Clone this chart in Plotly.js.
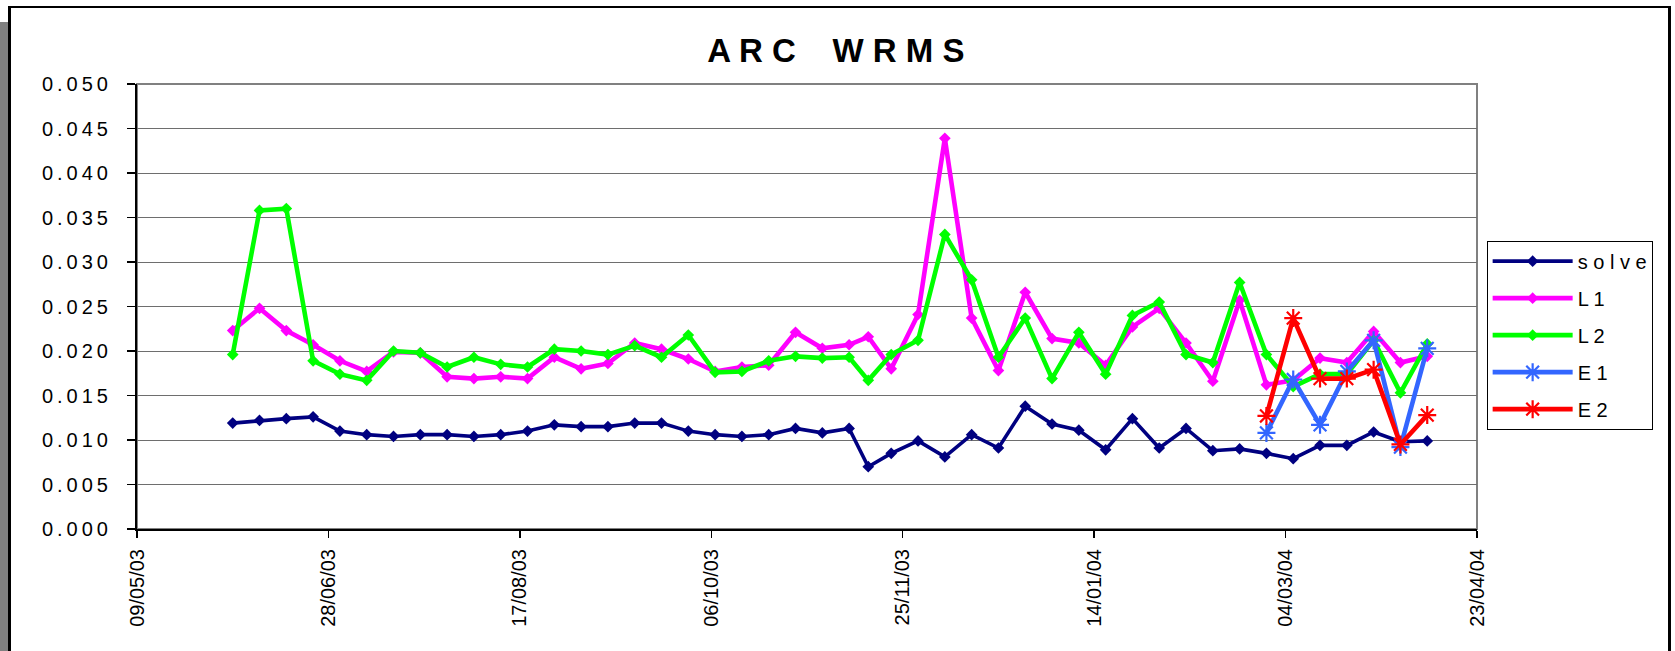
<!DOCTYPE html>
<html>
<head>
<meta charset="utf-8">
<script src="https://cdn.plot.ly/plotly-3.0.1.min.js"></script>
<style>
  html, body { margin: 0; padding: 0; background: #ffffff; overflow: hidden; }
  #wrap { position: relative; width: 1675px; height: 651px; overflow: hidden; }
  #chart { position: absolute; left: 0; top: 0; width: 1675px; height: 651px; }
  #shadow { position: absolute; left: 0; top: 22px; width: 8px; height: 700px; background: #808080; }
  #frame { position: absolute; left: 8px; top: 6px; width: 1663px; height: 720px; box-sizing: border-box;
           border-left: 3px solid #000; border-top: 2px solid #000; border-right: 3px solid #000; pointer-events: none; }
</style>
</head>
<body>
<div id="wrap">
  <div id="shadow"></div>
  <div id="chart"></div>
  <div id="frame"></div>
</div>
<script>
// ---- data ----
const dates = [
  '2003-06-03','2003-06-10','2003-06-17','2003-06-24','2003-07-01','2003-07-08','2003-07-15','2003-07-22',
  '2003-07-29','2003-08-05','2003-08-12','2003-08-19','2003-08-26','2003-09-02','2003-09-09','2003-09-16',
  '2003-09-23','2003-09-30','2003-10-07','2003-10-14','2003-10-21','2003-10-28','2003-11-04','2003-11-11',
  '2003-11-16','2003-11-22','2003-11-29','2003-12-06','2003-12-13','2003-12-20','2003-12-27','2004-01-03',
  '2004-01-10','2004-01-17','2004-01-24','2004-01-31','2004-02-07','2004-02-14','2004-02-21','2004-02-28',
  '2004-03-06','2004-03-13','2004-03-20','2004-03-27','2004-04-03','2004-04-10'
];
const solve = [
  0.0119,0.0122,0.0124,0.0126,0.0110,0.0106,0.0104,0.0106,0.0106,0.0104,0.0106,0.0110,0.0117,
  0.0115,0.0115,0.0119,0.0119,0.0110,0.0106,0.0104,0.0106,0.0113,0.0108,0.0113,
  0.0070,0.0085,0.0099,0.0081,0.0106,0.0091,
  0.0138,0.0118,0.0111,0.0089,0.0124,0.0091,0.0113,
  0.0088,0.0090,0.0085,0.0079,0.0094,0.0094,0.0109,0.0098,0.0099
];
const l1 = [
  0.0223,0.0248,0.0223,0.0207,0.0189,0.0177,0.0199,0.0198,0.0171,0.0169,0.0171,0.0169,0.0193,
  0.0180,0.0186,0.0209,0.0202,0.0191,0.0177,0.0182,0.0184,0.0221,0.0203,0.0207,
  0.0216,0.0180,0.0241,0.0439,0.0237,0.0178,
  0.0266,0.0214,0.0209,0.0184,0.0227,0.0248,0.0209,0.0166,0.0257,
  0.0162,0.0167,0.0192,0.0187,0.0222,0.0187,0.0194
];
const l2 = [
  0.0196,0.0358,0.0360,0.0189,0.0174,0.0167,0.0200,0.0198,0.0182,0.0193,0.0185,0.0182,0.0202,
  0.0200,0.0196,0.0206,0.0193,0.0218,0.0176,0.0177,0.0189,0.0194,0.0192,0.0193,
  0.0167,0.0196,0.0212,0.0331,0.0280,0.0193,
  0.0237,0.0169,0.0221,0.0174,0.0240,0.0255,0.0196,0.0187,0.0277,
  0.0196,0.0160,0.0174,0.0174,0.0212,0.0153,0.0208
];
const eDates = ['2004-02-28','2004-03-06','2004-03-13','2004-03-20','2004-03-27','2004-04-03','2004-04-10'];
const e1 = [0.0108,0.0168,0.0117,0.0177,0.0212,0.0092,0.0203];
const e2 = [0.0127,0.0237,0.0169,0.0169,0.0179,0.0095,0.0128];
const seriesNames = ['solve','L1','L2','E1','E2'];
const chartTitle = 'ARC WRMS';
const xTickDates = ['2003-05-09','2003-06-28','2003-08-17','2003-10-06','2003-11-25','2004-01-14','2004-03-04','2004-04-23'];
const xTickLabels = ['09/05/03','28/06/03','17/08/03','06/10/03','25/11/03','14/01/04','04/03/04','23/04/04'];
const yTickVals = [0,0.005,0.010,0.015,0.020,0.025,0.030,0.035,0.040,0.045,0.050];
const yTickLabels = ['0.000','0.005','0.010','0.015','0.020','0.025','0.030','0.035','0.040','0.045','0.050'];

// ---- helpers ----
const spaced = (s, sep, gap) => s.split('').map(c => c === ' ' ? (gap || '\u00A0') : c).join(sep);
const FONT = 'Arial, "Liberation Sans", sans-serif';

function lineTrace(x, y, name, color, width, symbol, msize, group) {
  const t = {
    x: x, y: y, name: spaced(name, ' '), type: 'scatter', mode: 'lines+markers',
    legendgroup: group,
    line: { color: color, width: width },
    marker: { symbol: symbol, size: msize, color: color }
  };
  if (symbol.indexOf('asterisk') === 0) t.marker.line = { color: color, width: 2.2 };
  return t;
}

const traces = [
  lineTrace(dates, solve, seriesNames[0], '#000080', 3.6, 'diamond', 9, 'g1'),
  lineTrace(dates, l1, seriesNames[1], '#FF00FF', 4.6, 'diamond', 9, 'g2'),
  lineTrace(dates, l2, seriesNames[2], '#00FF00', 4.6, 'diamond', 9, 'g3'),
  lineTrace(eDates, e1, seriesNames[3], '#3366FF', 4.6, 'asterisk-open', 15, 'g4'),
  lineTrace(eDates, e2, seriesNames[4], '#FF0000', 4.6, 'asterisk-open', 15, 'g5')
];

const layout = {
  width: 1675, height: 651,
  paper_bgcolor: 'rgba(0,0,0,0)', plot_bgcolor: '#ffffff',
  margin: { l: 137, r: 198, t: 84, b: 122, pad: 0 },
  font: { family: FONT, color: '#000000', size: 20 },
  title: {
    text: '<b>' + spaced(chartTitle, ' ', '\u00A0\u00A0') + '</b>',
    font: { family: FONT, size: 33, color: '#000000' },
    xref: 'container', x: 0.499, xanchor: 'center',
    yref: 'container', y: 1 - 50 / 651, yanchor: 'middle'
  },
  xaxis: {
    type: 'date',
    range: [xTickDates[0], xTickDates[xTickDates.length - 1]],
    tickmode: 'array', tickvals: xTickDates, ticktext: xTickLabels,
    tickangle: -90, tickfont: { family: FONT, size: 20, color: '#000' },
    ticks: 'outside', ticklen: 7, tickwidth: 1.5, tickcolor: '#000',
    ticklabelstandoff: 3,
    showline: true, linecolor: '#000', linewidth: 2,
    showgrid: false, zeroline: false, fixedrange: true
  },
  yaxis: {
    range: [0, 0.05],
    tickmode: 'array', tickvals: yTickVals, ticktext: yTickLabels.map(s => spaced(s, '\u2009')),
    tickfont: { family: FONT, size: 20, color: '#000' },
    ticks: 'outside', ticklen: 8, tickwidth: 1.5, tickcolor: '#000',
    ticklabelstandoff: 15,
    showline: true, linecolor: '#000', linewidth: 2,
    showgrid: true, gridcolor: '#6e6e6e', gridwidth: 1,
    zeroline: false, fixedrange: true
  },
  shapes: [{
    type: 'rect', xref: 'paper', yref: 'paper', x0: 0, x1: 1, y0: 0, y1: 1,
    line: { color: '#808080', width: 2 }, layer: 'below'
  }],
  showlegend: true,
  legend: {
    x: 1.0072, xanchor: 'left', y: 0.648, yanchor: 'top',
    bgcolor: '#ffffff', bordercolor: '#000000', borderwidth: 1,
    font: { family: FONT, size: 20, color: '#000' },
    traceorder: 'grouped', tracegroupgap: 8, itemwidth: 80
  }
};

Plotly.newPlot('chart', traces, layout, { displayModeBar: false, staticPlot: true });
</script>
</body>
</html>
